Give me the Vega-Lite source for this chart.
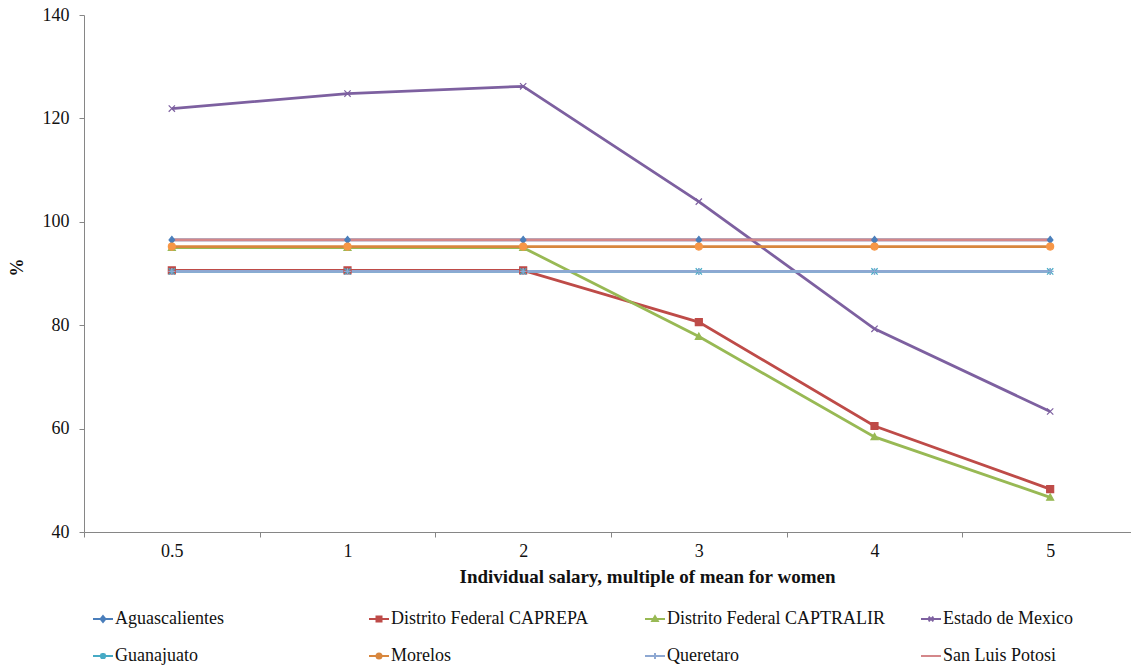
{
  "$schema": "https://vega.github.io/schema/vega-lite/v6.json",
  "autosize": {"type": "none"},
  "padding": {"left": 84, "top": 15, "right": 0, "bottom": 137},
  "width": 1047,
  "height": 517,
  "config": {
    "view": {"stroke": null},
    "font": "Liberation Serif",
    "axis": {
      "domainColor": "#868686",
      "tickColor": "#868686",
      "labelColor": "#111111",
      "titleColor": "#111111",
      "labelFont": "Liberation Serif",
      "titleFont": "Liberation Serif",
      "labelFontSize": 18,
      "titleFontSize": 18,
      "titleFontWeight": "bold",
      "grid": false,
      "tickSize": 5
    },
    "legend": {
      "labelFont": "Liberation Serif",
      "labelFontSize": 18,
      "labelColor": "#111111",
      "labelLimit": 400
    }
  },
  "data": {
    "values": [
      {"series": "Aguascalientes", "mult": "0.5", "pct": 96.5},
      {"series": "Aguascalientes", "mult": "1", "pct": 96.5},
      {"series": "Aguascalientes", "mult": "2", "pct": 96.5},
      {"series": "Aguascalientes", "mult": "3", "pct": 96.5},
      {"series": "Aguascalientes", "mult": "4", "pct": 96.5},
      {"series": "Aguascalientes", "mult": "5", "pct": 96.5},
      {"series": "Distrito Federal CAPREPA", "mult": "0.5", "pct": 90.6},
      {"series": "Distrito Federal CAPREPA", "mult": "1", "pct": 90.6},
      {"series": "Distrito Federal CAPREPA", "mult": "2", "pct": 90.6},
      {"series": "Distrito Federal CAPREPA", "mult": "3", "pct": 80.6},
      {"series": "Distrito Federal CAPREPA", "mult": "4", "pct": 60.5},
      {"series": "Distrito Federal CAPREPA", "mult": "5", "pct": 48.3},
      {"series": "Distrito Federal CAPTRALIR", "mult": "0.5", "pct": 95.0},
      {"series": "Distrito Federal CAPTRALIR", "mult": "1", "pct": 95.0},
      {"series": "Distrito Federal CAPTRALIR", "mult": "2", "pct": 95.0},
      {"series": "Distrito Federal CAPTRALIR", "mult": "3", "pct": 77.8},
      {"series": "Distrito Federal CAPTRALIR", "mult": "4", "pct": 58.4},
      {"series": "Distrito Federal CAPTRALIR", "mult": "5", "pct": 46.7},
      {"series": "Estado de Mexico", "mult": "0.5", "pct": 121.9},
      {"series": "Estado de Mexico", "mult": "1", "pct": 124.8},
      {"series": "Estado de Mexico", "mult": "2", "pct": 126.2},
      {"series": "Estado de Mexico", "mult": "3", "pct": 103.9},
      {"series": "Estado de Mexico", "mult": "4", "pct": 79.3},
      {"series": "Estado de Mexico", "mult": "5", "pct": 63.3},
      {"series": "Guanajuato", "mult": "0.5", "pct": 90.4},
      {"series": "Guanajuato", "mult": "1", "pct": 90.4},
      {"series": "Guanajuato", "mult": "2", "pct": 90.4},
      {"series": "Guanajuato", "mult": "3", "pct": 90.4},
      {"series": "Guanajuato", "mult": "4", "pct": 90.4},
      {"series": "Guanajuato", "mult": "5", "pct": 90.4},
      {"series": "Morelos", "mult": "0.5", "pct": 95.2},
      {"series": "Morelos", "mult": "1", "pct": 95.2},
      {"series": "Morelos", "mult": "2", "pct": 95.2},
      {"series": "Morelos", "mult": "3", "pct": 95.2},
      {"series": "Morelos", "mult": "4", "pct": 95.2},
      {"series": "Morelos", "mult": "5", "pct": 95.2},
      {"series": "Queretaro", "mult": "0.5", "pct": 90.4},
      {"series": "Queretaro", "mult": "1", "pct": 90.4},
      {"series": "Queretaro", "mult": "2", "pct": 90.4},
      {"series": "Queretaro", "mult": "3", "pct": 90.4},
      {"series": "Queretaro", "mult": "4", "pct": 90.4},
      {"series": "Queretaro", "mult": "5", "pct": 90.4},
      {"series": "San Luis Potosi", "mult": "0.5", "pct": 96.5},
      {"series": "San Luis Potosi", "mult": "1", "pct": 96.5},
      {"series": "San Luis Potosi", "mult": "2", "pct": 96.5},
      {"series": "San Luis Potosi", "mult": "3", "pct": 96.5},
      {"series": "San Luis Potosi", "mult": "4", "pct": 96.5},
      {"series": "San Luis Potosi", "mult": "5", "pct": 96.5}
    ]
  },
  "encoding": {
    "x": {
      "field": "mult",
      "type": "ordinal",
      "bandPosition": 0.5,
      "scale": {"type": "band", "domain": ["0.5", "1", "2", "3", "4", "5"], "range": [0, 1054], "paddingInner": 0, "paddingOuter": 0},
      "axis": {
        "title": "Individual  salary, multiple of  mean for women",
        "labelAngle": 0,
        "tickBand": "extent",
        "labelPadding": 5,
        "titleX": 563,
        "titleY": 35,
        "titleBaseline": "top",
        "titleFontSize": 19
      }
    },
    "y": {
      "field": "pct",
      "type": "quantitative",
      "scale": {"domain": [40, 140], "nice": false, "zero": false},
      "axis": {
        "title": "%",
        "values": [40, 60, 80, 100, 120, 140],
        "labelPadding": 10,
        "titleX": -58,
        "titleY": 252
      }
    }
  },
  "layer": [
    {
      "mark": {"type": "line", "strokeWidth": 2.8},
      "encoding": {
        "color": {
          "field": "series",
          "type": "nominal",
          "scale": {
            "domain": ["Aguascalientes", "Distrito Federal CAPREPA", "Distrito Federal CAPTRALIR", "Estado de Mexico", "Guanajuato", "Morelos", "Queretaro", "San Luis Potosi"],
            "range": ["#4A7EBB", "#BE4B48", "#98B954", "#7D60A0", "#46AAC5", "#D8873E", "#8EA8D2", "#D4878A"]
          },
          "legend": {
            "title": null,
            "orient": "none",
            "legendX": 8,
            "legendY": 593,
            "direction": "horizontal",
            "columns": 4,
            "gridAlign": "all",
            "columnPadding": 32,
            "rowPadding": 17,
            "symbolSize": 400,
            "symbolStrokeWidth": 2,
            "labelOffset": 1,
            "encode": {
              "symbols": {
                "update": {
                  "shape": {"signal": "{'Aguascalientes': 'M-1,0L1,0M0,-0.3L0.24,0L0,0.3L-0.24,0Z', 'Distrito Federal CAPREPA': 'M-1,0L1,0M-0.25,-0.25L0.25,-0.25L0.25,0.25L-0.25,0.25Z', 'Distrito Federal CAPTRALIR': 'M-1,0L1,0M0,-0.28L0.28,0.2L-0.28,0.2Z', 'Estado de Mexico': 'M-1,0L1,0M-0.24,-0.24L0.24,0.24M-0.24,0.24L0.24,-0.24', 'Guanajuato': 'M-1,0L1,0M-0.24,-0.24L0.24,0.24M-0.24,0.24L0.24,-0.24M0,-0.3L0,0.3', 'Morelos': 'M-1,0L1,0M0.25,0A0.25,0.25,0,1,1,-0.25,0A0.25,0.25,0,1,1,0.25,0Z', 'Queretaro': 'M-1,0L1,0M0,-0.3L0,0.3', 'San Luis Potosi': 'M-1,0L1,0'}[datum.value]"},
                  "fill": {"signal": "scale('color', datum.value)"},
                  "stroke": {"signal": "scale('color', datum.value)"},
                  "strokeWidth": {"value": 2},
                  "opacity": {"value": 1}
                }
              }
            }
          }
        }
      }
    },
    {
      "transform": [{"filter": "datum.series !== 'San Luis Potosi'"}],
      "mark": {"type": "point", "filled": true, "opacity": 1, "size": 49, "strokeWidth": 1.2},
      "encoding": {
        "shape": {
          "field": "series",
          "type": "nominal",
          "scale": {
            "domain": ["Aguascalientes", "Distrito Federal CAPREPA", "Distrito Federal CAPTRALIR", "Estado de Mexico", "Guanajuato", "Morelos", "Queretaro"],
            "range": ["M0,-1L0.8,0L0,1L-0.8,0Z", "M-1,-1L1,-1L1,1L-1,1Z", "M0,-1L1,0.8L-1,0.8Z", "M-0.9,-0.9L0.9,0.9M-0.9,0.9L0.9,-0.9", "M-0.9,-0.9L0.9,0.9M-0.9,0.9L0.9,-0.9M0,-1L0,1", "M1,0A1,1,0,1,1,-1,0A1,1,0,1,1,1,0Z", "M-1,0L1,0M0,-1L0,1"]
          },
          "legend": null
        },
        "fill": {
          "field": "series",
          "type": "nominal",
          "scale": {
            "domain": ["Aguascalientes", "Distrito Federal CAPREPA", "Distrito Federal CAPTRALIR", "Estado de Mexico", "Guanajuato", "Morelos", "Queretaro"],
            "range": ["#4A7EBB", "#BE4B48", "#98B954", "#7D60A0", "#46AAC5", "#F79646", "#8EA8D2"]
          },
          "legend": null
        },
        "stroke": {
          "field": "series",
          "type": "nominal",
          "scale": {
            "domain": ["Aguascalientes", "Distrito Federal CAPREPA", "Distrito Federal CAPTRALIR", "Estado de Mexico", "Guanajuato", "Morelos", "Queretaro"],
            "range": ["#4A7EBB", "#BE4B48", "#98B954", "#7D60A0", "#46AAC5", "#F79646", "#8EA8D2"]
          },
          "legend": null
        }
      }
    }
  ]
}
